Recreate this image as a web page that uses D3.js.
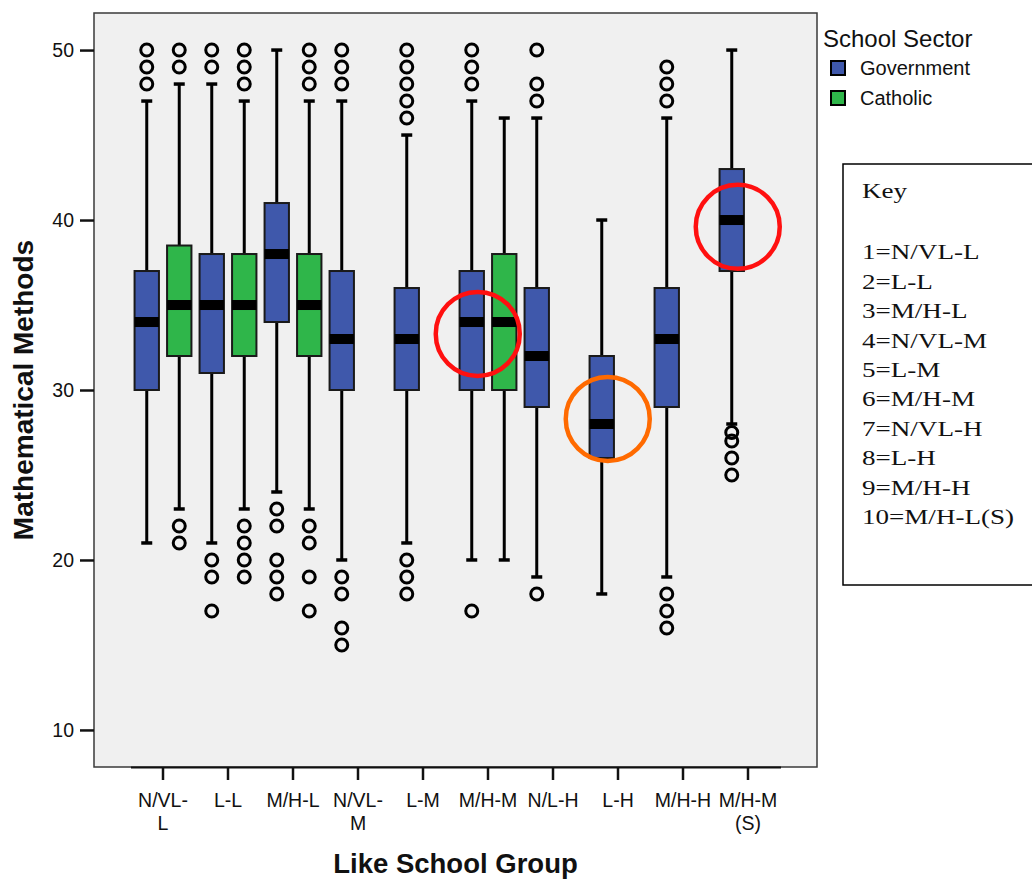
<!DOCTYPE html>
<html><head><meta charset="utf-8">
<script src="https://cdn.jsdelivr.net/npm/d3@7"></script>
<style>
body{margin:0;background:#fff;}
svg{display:block;}
text{font-family:"Liberation Sans",Arial,sans-serif;fill:#111;}
</style>
</head><body>
<svg id="chart" width="1032" height="882"></svg>
<script>
// ---------- data ----------
const groups = ["N/VL-L","L-L","M/H-L","N/VL-M","L-M","M/H-M","N/L-H","L-H","M/H-H","M/H-M (S)"];
const groupTickLines = [["N/VL-","L"],["L-L"],["M/H-L"],["N/VL-","M"],["L-M"],["M/H-M"],["N/L-H"],["L-H"],["M/H-H"],["M/H-M","(S)"]];
const sectors = ["Government","Catholic"];
const sectorColors = ["#3f58ab","#2fb64a"];

const boxGroup  = ["N/VL-L","N/VL-L","L-L","L-L","M/H-L","M/H-L","N/VL-M","L-M","M/H-M","M/H-M","N/L-H","L-H","M/H-H","M/H-M (S)"];
const boxSector = ["Government","Catholic","Government","Catholic","Government","Catholic","Government","Government","Government","Catholic","Government","Government","Government","Government"];
const whiskerLow  = [21, 23, 21, 23, 24, 23, 20, 21, 20, 20, 19, 18, 19, 28];
const q1          = [30, 32, 31, 32, 34, 32, 30, 30, 30, 30, 29, 26, 29, 37];
const median      = [34, 35, 35, 35, 38, 35, 33, 33, 34, 34, 32, 28, 33, 40];
const q3          = [37, 38.5, 38, 38, 41, 38, 37, 36, 37, 38, 36, 32, 36, 43];
const whiskerHigh = [47, 48, 48, 47, 50, 47, 47, 45, 47, 46, 46, 40, 46, 50];
const outliers = [
  [50, 49, 48],
  [50, 49, 22, 21],
  [50, 49, 20, 19, 17],
  [50, 49, 48, 22, 21, 20, 19],
  [23, 22, 20, 19, 18],
  [50, 49, 48, 22, 21, 19, 17],
  [50, 49, 48, 19, 18, 16, 15],
  [50, 49, 48, 47, 46, 20, 19, 18],
  [50, 49, 48, 17],
  [],
  [50, 48, 47, 18],
  [],
  [49, 48, 47, 18, 17, 16],
  [27.5, 27, 26, 25]
];

const yTicks = [10, 20, 30, 40, 50];
const yDomain = [7.82, 52.18];

const annoGroups = ["M/H-M", "L-H", "M/H-M (S)"];
const annoValues = [33.3, 28.3, 39.6];
const annoColors = ["#ff1010", "#ff6a00", "#ff1010"];

const keyTitle = "Key";
const keyLines = ["1=N/VL-L","2=L-L","3=M/H-L","4=N/VL-M","5=L-M","6=M/H-M","7=N/VL-H","8=L-H","9=M/H-H","10=M/H-L(S)"];

// ---------- layout ----------
const svg = d3.select("#chart");
const plot = {left: 94, right: 817, top: 13, bottom: 767};

const x = d3.scaleBand().domain(groups).range([130.5, 780.5]).paddingInner(0).paddingOuter(0);
const xs = d3.scaleBand().domain(sectors).range([0, x.bandwidth()]);
const y = d3.scaleLinear().domain(yDomain).range([plot.bottom, plot.top]);
const color = d3.scaleOrdinal().domain(sectors).range(sectorColors);

// plot background
svg.append("rect")
  .attr("x", plot.left).attr("y", plot.top)
  .attr("width", plot.right - plot.left).attr("height", plot.bottom - plot.top)
  .attr("fill", "#f0f0f0").attr("stroke", "#3a3a3a").attr("stroke-width", 1.5);

// y axis
const yAxis = svg.append("g").attr("transform", `translate(${plot.left},0)`)
  .call(d3.axisLeft(y).tickValues(yTicks).tickSize(14).tickPadding(6).tickFormat(d3.format("d")));
yAxis.select(".domain").remove();
yAxis.selectAll(".tick line").attr("stroke", "#111").attr("stroke-width", 2.5);
yAxis.selectAll(".tick text").style("font-size", "19.5px").style("font-family", '"Liberation Sans",Arial,sans-serif').attr("fill", "#111");

// x axis
const xAxis = svg.append("g").attr("transform", `translate(0,${plot.bottom})`)
  .call(d3.axisBottom(x).tickSize(13).tickSizeOuter(0).tickFormat(""));
xAxis.select(".domain").attr("stroke", "#111").attr("stroke-width", 2);
xAxis.selectAll(".tick line").attr("stroke", "#111").attr("stroke-width", 2.5);
xAxis.selectAll(".tick text").remove();
xAxis.selectAll(".tick").each(function(d, i) {
  const t = d3.select(this).append("text")
    .attr("text-anchor", "middle").attr("y", 40)
    .style("font-size", "19.5px").attr("fill", "#111");
  groupTickLines[i].forEach((line, j) => {
    t.append("tspan").attr("x", 0).attr("dy", j === 0 ? 0 : 22.6).text(line);
  });
});

// boxes
const boxes = boxGroup.map((g, i) => ({
  g, s: boxSector[i], lo: whiskerLow[i], q1: q1[i], med: median[i], q3: q3[i], hi: whiskerHigh[i], out: outliers[i]
}));
const boxW = xs.bandwidth() * 0.75;
const capW = 11;

const bg = svg.append("g");
boxes.forEach(b => {
  const cx = x(b.g) + xs(b.s) + xs.bandwidth() / 2;
  const gg = bg.append("g");
  // whiskers
  gg.append("line").attr("x1", cx).attr("x2", cx).attr("y1", y(b.lo)).attr("y2", y(b.q1))
    .attr("stroke", "#000").attr("stroke-width", 3);
  gg.append("line").attr("x1", cx).attr("x2", cx).attr("y1", y(b.q3)).attr("y2", y(b.hi))
    .attr("stroke", "#000").attr("stroke-width", 3);
  [b.lo, b.hi].forEach(v => {
    gg.append("line").attr("x1", cx - capW / 2).attr("x2", cx + capW / 2).attr("y1", y(v)).attr("y2", y(v))
      .attr("stroke", "#000").attr("stroke-width", 3.5);
  });
  // box
  gg.append("rect").attr("x", cx - boxW / 2).attr("width", boxW)
    .attr("y", y(b.q3)).attr("height", y(b.q1) - y(b.q3))
    .attr("fill", color(b.s)).attr("stroke", "#1a1a1a").attr("stroke-width", 2);
  // median
  gg.append("rect").attr("x", cx - boxW / 2).attr("width", boxW)
    .attr("y", y(b.med) - 5).attr("height", 10).attr("fill", "#000");
  // outliers
  gg.selectAll("circle.out").data(b.out).enter().append("circle")
    .attr("class", "out").attr("cx", cx).attr("cy", d => y(d)).attr("r", 6)
    .attr("fill", "none").attr("stroke", "#000").attr("stroke-width", 3);
});

// annotation circles
annoGroups.forEach((g, i) => {
  const cx = x(g) + xs("Government") + xs.bandwidth() / 2 + 6;
  svg.append("circle").attr("cx", cx).attr("cy", y(annoValues[i])).attr("r", 42)
    .attr("fill", "none").attr("stroke", annoColors[i]).attr("stroke-width", 4.5);
});

// axis titles
svg.append("text").attr("x", (plot.left + plot.right) / 2).attr("y", 873)
  .attr("text-anchor", "middle").style("font-size", "27.5px").style("font-weight", "bold")
  .text("Like School Group");
svg.append("text").attr("transform", `translate(33,${(plot.top + plot.bottom) / 2}) rotate(-90)`)
  .attr("text-anchor", "middle").style("font-size", "28px").style("font-weight", "bold")
  .text("Mathematical Methods");

// legend
const lg = svg.append("g");
lg.append("text").attr("x", 823).attr("y", 47).style("font-size", "24px").text("School Sector");
sectors.forEach((s, i) => {
  lg.append("rect").attr("x", 831).attr("y", 61 + i * 30).attr("width", 14).attr("height", 14)
    .attr("fill", color(s)).attr("stroke", "#000").attr("stroke-width", 2);
  lg.append("text").attr("x", 860).attr("y", 75 + i * 30).style("font-size", "20px").text(s);
});

// key box
const kg = svg.append("g");
kg.append("rect").attr("x", 843).attr("y", 164).attr("width", 220).attr("height", 421)
  .attr("fill", "#fff").attr("stroke", "#000").attr("stroke-width", 1.5);
const kt = kg.append("g").attr("transform", "translate(862,0) scale(1.23,1)");
kt.append("text").attr("x", 0).attr("y", 198).style("font-family", '"Liberation Serif","Times New Roman",serif')
  .style("font-size", "22px").attr("fill", "#222").text(keyTitle);
keyLines.forEach((l, i) => {
  kt.append("text").attr("x", 0).attr("y", 259.5 + i * 29.4)
    .style("font-family", '"Liberation Serif","Times New Roman",serif').style("font-size", "22px").attr("fill", "#222").text(l);
});
</script>
</body></html>
